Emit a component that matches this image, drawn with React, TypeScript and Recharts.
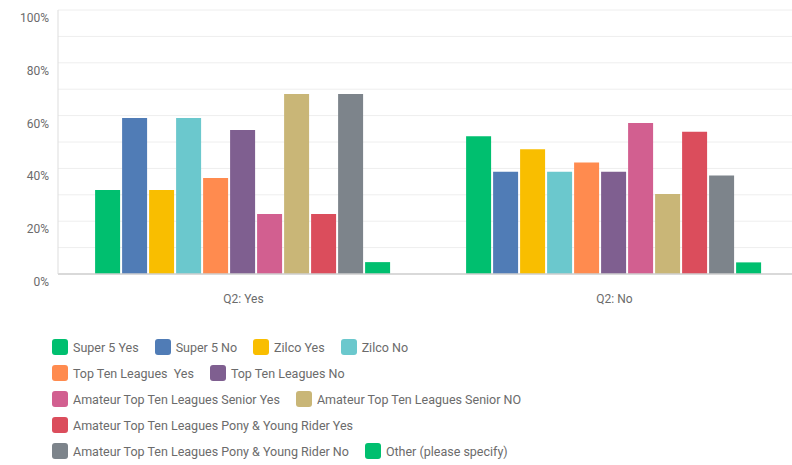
import { BarChart, Bar, XAxis, YAxis, CartesianGrid, Legend } from "recharts";

const categories = ["Q2: Yes", "Q2: No"];

const seriesNames = [
    "Super 5 Yes",
    "Super 5 No",
    "Zilco Yes",
    "Zilco No",
    "Top Ten Leagues  Yes",
    "Top Ten Leagues No",
    "Amateur Top Ten Leagues Senior Yes",
    "Amateur Top Ten Leagues Senior NO",
    "Amateur Top Ten Leagues Pony & Young Rider Yes",
    "Amateur Top Ten Leagues Pony & Young Rider No",
    "Other (please specify)",
];

const yesValues = [31.8, 59.1, 31.8, 59.1, 36.4, 54.5, 22.7, 68.2, 22.7, 68.2, 4.5];
const noValues = [52.2, 38.7, 47.3, 38.7, 42.2, 38.7, 57.2, 30.3, 53.9, 37.3, 4.4];

const colors = [
    "#00bf6f", "#507cb6", "#f9be00", "#6bc8cd", "#ff8b4f", "#7f5f90",
    "#d25f90", "#c9b677", "#db4d5c", "#7d848b", "#00bf6f",
];

const yTicks = [0, 10, 20, 30, 40, 50, 60, 70, 80, 90, 100];

const data = categories.map((name, ci) => {
    const row: Record<string, string | number> = { name };
    const vals = ci === 0 ? yesValues : noValues;
    seriesNames.forEach((s, i) => {
        row[`s${i}`] = vals[i];
    });
    return row;
});

const YTick = ({ x, y, payload }: any) =>
    payload.value % 20 === 0 ? (
        <text x={x - 1} y={y + 12} textAnchor="end" fill="#6b6b6b" fontSize={12}>
            {payload.value}%
        </text>
    ) : null;

function LegendBox() {
    return (
        <div style={{ display: "flex", flexWrap: "wrap", width: 505, rowGap: 10 }}>
            {seriesNames.map((s, i) => (
                <div key={s} style={{ display: "flex", alignItems: "center", marginRight: 16 }}>
                    <span
                        style={{
                            width: 16,
                            height: 16,
                            borderRadius: 3,
                            background: colors[i],
                            marginRight: 5,
                            display: "inline-block",
                        }}
                    />
                    <span style={{ fontSize: 12.5, color: "#6b6b6b", whiteSpace: "pre" }}>{s}</span>
                </div>
            ))}
        </div>
    );
}

export default function App() {
    return (
        <div style={{ position: "absolute", left: 0, top: 0, width: 792, height: 465, overflow: "hidden", background: "#fff" }}>
            <BarChart
                width={800}
                height={465}
                data={data}
                margin={{ top: 10, right: 0, left: 0, bottom: 155 }}
                barCategoryGap="10%"
                barGap={2}
                style={{ fontFamily: "Roboto, sans-serif" }}
            >
                <CartesianGrid vertical={false} stroke="#eeeeee" />
                <XAxis
                    dataKey="name"
                    tickLine={false}
                    axisLine={{ stroke: "#cfcfcf", strokeWidth: 1.5 }}
                    tick={{ fill: "#6b6b6b", fontSize: 12 }}
                    tickMargin={14}
                    height={36}
                />
                <YAxis
                    width={58}
                    domain={[0, 100]}
                    ticks={yTicks}
                    interval={0}
                    tickLine={false}
                    axisLine={{ stroke: "#dddddd" }}
                    tick={<YTick />}
                />
                <Legend
                    layout="horizontal"
                    verticalAlign="middle"
                    align="center"
                    wrapperStyle={{ top: 339, left: 52, width: 520 }}
                    content={() => <LegendBox />}
                />
                {seriesNames.map((s, i) => (
                    <Bar key={s} dataKey={`s${i}`} name={s} fill={colors[i]} isAnimationActive={false} />
                ))}
            </BarChart>
        </div>
    );
}
